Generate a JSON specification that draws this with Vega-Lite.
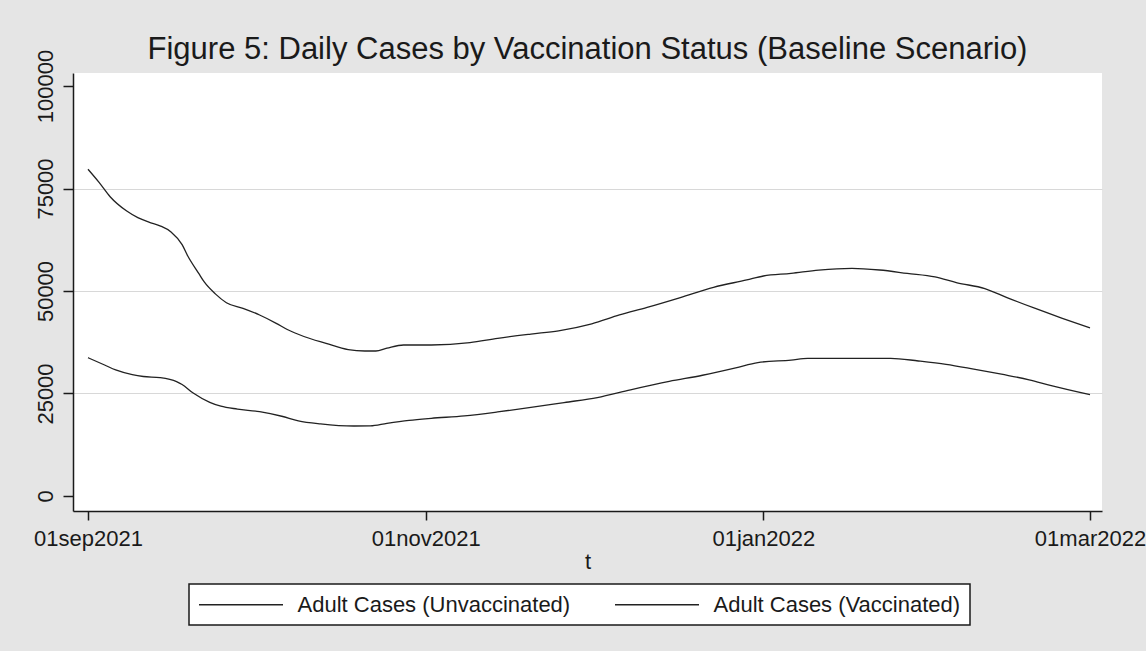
{
  "$schema": "https://vega.github.io/schema/vega-lite/v6.json",
  "width": 1029,
  "height": 438,
  "autosize": {"type": "none"},
  "padding": {"left": 73, "top": 73, "right": 44, "bottom": 140},
  "background": "#e5e5e5",
  "config": {
    "font": "Liberation Sans",
    "view": {"fill": "white", "stroke": null},
    "axis": {
      "labelFont": "Liberation Sans",
      "titleFont": "Liberation Sans",
      "labelFontSize": 22,
      "titleFontSize": 22,
      "labelColor": "#1a1a1a",
      "titleColor": "#1a1a1a",
      "titleFontWeight": "normal",
      "domainColor": "#1a1a1a",
      "domainWidth": 1.5,
      "tickColor": "#1a1a1a",
      "tickWidth": 1.5
    }
  },
  "title": {
    "text": "Figure 5: Daily Cases by Vaccination Status (Baseline Scenario)",
    "fontSize": 31,
    "fontWeight": "normal",
    "font": "Liberation Sans",
    "color": "#1a1a1a",
    "anchor": "middle",
    "frame": "group",
    "offset": -17
  },
  "data": {
    "values": [
      {"t": "2021-09-01", "s": "Adult Cases (Unvaccinated)", "v": 79700},
      {"t": "2021-09-03", "s": "Adult Cases (Unvaccinated)", "v": 76500},
      {"t": "2021-09-05", "s": "Adult Cases (Unvaccinated)", "v": 73000},
      {"t": "2021-09-08", "s": "Adult Cases (Unvaccinated)", "v": 69500},
      {"t": "2021-09-10", "s": "Adult Cases (Unvaccinated)", "v": 67900},
      {"t": "2021-09-12", "s": "Adult Cases (Unvaccinated)", "v": 66800},
      {"t": "2021-09-14", "s": "Adult Cases (Unvaccinated)", "v": 65900},
      {"t": "2021-09-16", "s": "Adult Cases (Unvaccinated)", "v": 64400},
      {"t": "2021-09-18", "s": "Adult Cases (Unvaccinated)", "v": 61300},
      {"t": "2021-09-19", "s": "Adult Cases (Unvaccinated)", "v": 58600},
      {"t": "2021-09-21", "s": "Adult Cases (Unvaccinated)", "v": 54300},
      {"t": "2021-09-22", "s": "Adult Cases (Unvaccinated)", "v": 52200},
      {"t": "2021-09-24", "s": "Adult Cases (Unvaccinated)", "v": 49300},
      {"t": "2021-09-26", "s": "Adult Cases (Unvaccinated)", "v": 47150},
      {"t": "2021-09-29", "s": "Adult Cases (Unvaccinated)", "v": 45780},
      {"t": "2021-10-02", "s": "Adult Cases (Unvaccinated)", "v": 44150},
      {"t": "2021-10-05", "s": "Adult Cases (Unvaccinated)", "v": 42120},
      {"t": "2021-10-07", "s": "Adult Cases (Unvaccinated)", "v": 40600},
      {"t": "2021-10-10", "s": "Adult Cases (Unvaccinated)", "v": 38900},
      {"t": "2021-10-14", "s": "Adult Cases (Unvaccinated)", "v": 37240},
      {"t": "2021-10-18", "s": "Adult Cases (Unvaccinated)", "v": 35700},
      {"t": "2021-10-21", "s": "Adult Cases (Unvaccinated)", "v": 35370},
      {"t": "2021-10-23", "s": "Adult Cases (Unvaccinated)", "v": 35370},
      {"t": "2021-10-25", "s": "Adult Cases (Unvaccinated)", "v": 36050},
      {"t": "2021-10-28", "s": "Adult Cases (Unvaccinated)", "v": 36830},
      {"t": "2021-11-02", "s": "Adult Cases (Unvaccinated)", "v": 36830},
      {"t": "2021-11-09", "s": "Adult Cases (Unvaccinated)", "v": 37400},
      {"t": "2021-11-14", "s": "Adult Cases (Unvaccinated)", "v": 38450},
      {"t": "2021-11-20", "s": "Adult Cases (Unvaccinated)", "v": 39500},
      {"t": "2021-11-25", "s": "Adult Cases (Unvaccinated)", "v": 40300},
      {"t": "2021-12-01", "s": "Adult Cases (Unvaccinated)", "v": 42000},
      {"t": "2021-12-06", "s": "Adult Cases (Unvaccinated)", "v": 44150},
      {"t": "2021-12-11", "s": "Adult Cases (Unvaccinated)", "v": 46000},
      {"t": "2021-12-17", "s": "Adult Cases (Unvaccinated)", "v": 48400},
      {"t": "2021-12-23", "s": "Adult Cases (Unvaccinated)", "v": 50900},
      {"t": "2021-12-29", "s": "Adult Cases (Unvaccinated)", "v": 52700},
      {"t": "2022-01-01", "s": "Adult Cases (Unvaccinated)", "v": 53660},
      {"t": "2022-01-06", "s": "Adult Cases (Unvaccinated)", "v": 54300},
      {"t": "2022-01-11", "s": "Adult Cases (Unvaccinated)", "v": 55100},
      {"t": "2022-01-17", "s": "Adult Cases (Unvaccinated)", "v": 55530},
      {"t": "2022-01-22", "s": "Adult Cases (Unvaccinated)", "v": 55120},
      {"t": "2022-01-27", "s": "Adult Cases (Unvaccinated)", "v": 54300},
      {"t": "2022-02-01", "s": "Adult Cases (Unvaccinated)", "v": 53450},
      {"t": "2022-02-05", "s": "Adult Cases (Unvaccinated)", "v": 52000},
      {"t": "2022-02-10", "s": "Adult Cases (Unvaccinated)", "v": 50600},
      {"t": "2022-02-14", "s": "Adult Cases (Unvaccinated)", "v": 48400},
      {"t": "2022-02-19", "s": "Adult Cases (Unvaccinated)", "v": 45800},
      {"t": "2022-02-24", "s": "Adult Cases (Unvaccinated)", "v": 43340},
      {"t": "2022-03-01", "s": "Adult Cases (Unvaccinated)", "v": 41000},
      {"t": "2021-09-01", "s": "Adult Cases (Vaccinated)", "v": 33730},
      {"t": "2021-09-04", "s": "Adult Cases (Vaccinated)", "v": 31950},
      {"t": "2021-09-06", "s": "Adult Cases (Vaccinated)", "v": 30750},
      {"t": "2021-09-09", "s": "Adult Cases (Vaccinated)", "v": 29600},
      {"t": "2021-09-11", "s": "Adult Cases (Vaccinated)", "v": 29150},
      {"t": "2021-09-14", "s": "Adult Cases (Vaccinated)", "v": 28870},
      {"t": "2021-09-17", "s": "Adult Cases (Vaccinated)", "v": 27900},
      {"t": "2021-09-18", "s": "Adult Cases (Vaccinated)", "v": 27200},
      {"t": "2021-09-20", "s": "Adult Cases (Vaccinated)", "v": 25100},
      {"t": "2021-09-23", "s": "Adult Cases (Vaccinated)", "v": 22850},
      {"t": "2021-09-25", "s": "Adult Cases (Vaccinated)", "v": 21900},
      {"t": "2021-09-28", "s": "Adult Cases (Vaccinated)", "v": 21200},
      {"t": "2021-10-02", "s": "Adult Cases (Vaccinated)", "v": 20560},
      {"t": "2021-10-06", "s": "Adult Cases (Vaccinated)", "v": 19450},
      {"t": "2021-10-09", "s": "Adult Cases (Vaccinated)", "v": 18350},
      {"t": "2021-10-13", "s": "Adult Cases (Vaccinated)", "v": 17600},
      {"t": "2021-10-19", "s": "Adult Cases (Vaccinated)", "v": 17070},
      {"t": "2021-10-22", "s": "Adult Cases (Vaccinated)", "v": 17100},
      {"t": "2021-10-25", "s": "Adult Cases (Vaccinated)", "v": 17730},
      {"t": "2021-10-29", "s": "Adult Cases (Vaccinated)", "v": 18450},
      {"t": "2021-11-02", "s": "Adult Cases (Vaccinated)", "v": 18950},
      {"t": "2021-11-08", "s": "Adult Cases (Vaccinated)", "v": 19550},
      {"t": "2021-11-14", "s": "Adult Cases (Vaccinated)", "v": 20500},
      {"t": "2021-11-20", "s": "Adult Cases (Vaccinated)", "v": 21600},
      {"t": "2021-11-26", "s": "Adult Cases (Vaccinated)", "v": 22800},
      {"t": "2021-12-02", "s": "Adult Cases (Vaccinated)", "v": 24000},
      {"t": "2021-12-08", "s": "Adult Cases (Vaccinated)", "v": 25900},
      {"t": "2021-12-15", "s": "Adult Cases (Vaccinated)", "v": 27950},
      {"t": "2021-12-21", "s": "Adult Cases (Vaccinated)", "v": 29450},
      {"t": "2021-12-27", "s": "Adult Cases (Vaccinated)", "v": 31250},
      {"t": "2021-12-31", "s": "Adult Cases (Vaccinated)", "v": 32550},
      {"t": "2022-01-06", "s": "Adult Cases (Vaccinated)", "v": 33150},
      {"t": "2022-01-09", "s": "Adult Cases (Vaccinated)", "v": 33550},
      {"t": "2022-01-15", "s": "Adult Cases (Vaccinated)", "v": 33580},
      {"t": "2022-01-24", "s": "Adult Cases (Vaccinated)", "v": 33580},
      {"t": "2022-01-29", "s": "Adult Cases (Vaccinated)", "v": 32930},
      {"t": "2022-02-03", "s": "Adult Cases (Vaccinated)", "v": 32120},
      {"t": "2022-02-08", "s": "Adult Cases (Vaccinated)", "v": 30950},
      {"t": "2022-02-13", "s": "Adult Cases (Vaccinated)", "v": 29700},
      {"t": "2022-02-18", "s": "Adult Cases (Vaccinated)", "v": 28350},
      {"t": "2022-02-22", "s": "Adult Cases (Vaccinated)", "v": 26900},
      {"t": "2022-03-01", "s": "Adult Cases (Vaccinated)", "v": 24700}
    ]
  },
  "mark": {"type": "line", "strokeWidth": 1.3, "interpolate": "monotone"},
  "encoding": {
    "x": {
      "field": "t",
      "type": "temporal",
      "scale": {
        "type": "utc",
        "domain": [
          {"year": 2021, "month": 8, "date": 29, "hours": 7, "utc": true},
          {"year": 2022, "month": 3, "date": 3, "hours": 4, "utc": true}
        ]
      },
      "axis": {
        "title": "t",
        "values": [
          {"year": 2021, "month": 9, "date": 1, "utc": true},
          {"year": 2021, "month": 11, "date": 1, "utc": true},
          {"year": 2022, "month": 1, "date": 1, "utc": true},
          {"year": 2022, "month": 3, "date": 1, "utc": true}
        ],
        "labelExpr": "lower(utcFormat(datum.value, '%d%b%Y'))",
        "grid": false,
        "tickSize": 9,
        "labelPadding": 8,
        "labelFlush": false,
        "labelOverlap": false,
        "titlePadding": 2
      }
    },
    "y": {
      "field": "v",
      "type": "quantitative",
      "scale": {"domain": [-3659, 103171], "nice": false, "zero": false},
      "axis": {
        "title": null,
        "values": [0, 25000, 50000, 75000, 100000],
        "format": "d",
        "labelAngle": 270,
        "labelAlign": "center",
        "labelBaseline": "bottom",
        "labelPadding": 6,
        "tickSize": 10,
        "labelFlush": false,
        "labelOverlap": false,
        "grid": true,
        "gridColor": "#d8d8d8",
        "gridWidth": 1,
        "gridOpacity": {"condition": {"test": "datum.value == 0 || datum.value == 100000", "value": 0}, "value": 1}
      }
    },
    "color": {
      "field": "s",
      "type": "nominal",
      "scale": {"range": ["#222222", "#222222"]},
      "legend": {
        "title": null,
        "orient": "none",
        "legendX": 116,
        "legendY": 511,
        "direction": "horizontal",
        "symbolType": "M-4,0H4",
        "symbolSize": 441,
        "symbolOffset": 31.5,
        "symbolStrokeWidth": 1.3,
        "labelFont": "Liberation Sans",
        "labelFontSize": 22,
        "labelColor": "#1a1a1a",
        "labelOffset": 45,
        "labelLimit": 400,
        "columnPadding": 41,
        "padding": 9,
        "fillColor": "white",
        "strokeColor": "#1a1a1a",
        "encode": {"legend": {"update": {"strokeWidth": {"value": 1.5}}}}
      }
    }
  }
}
